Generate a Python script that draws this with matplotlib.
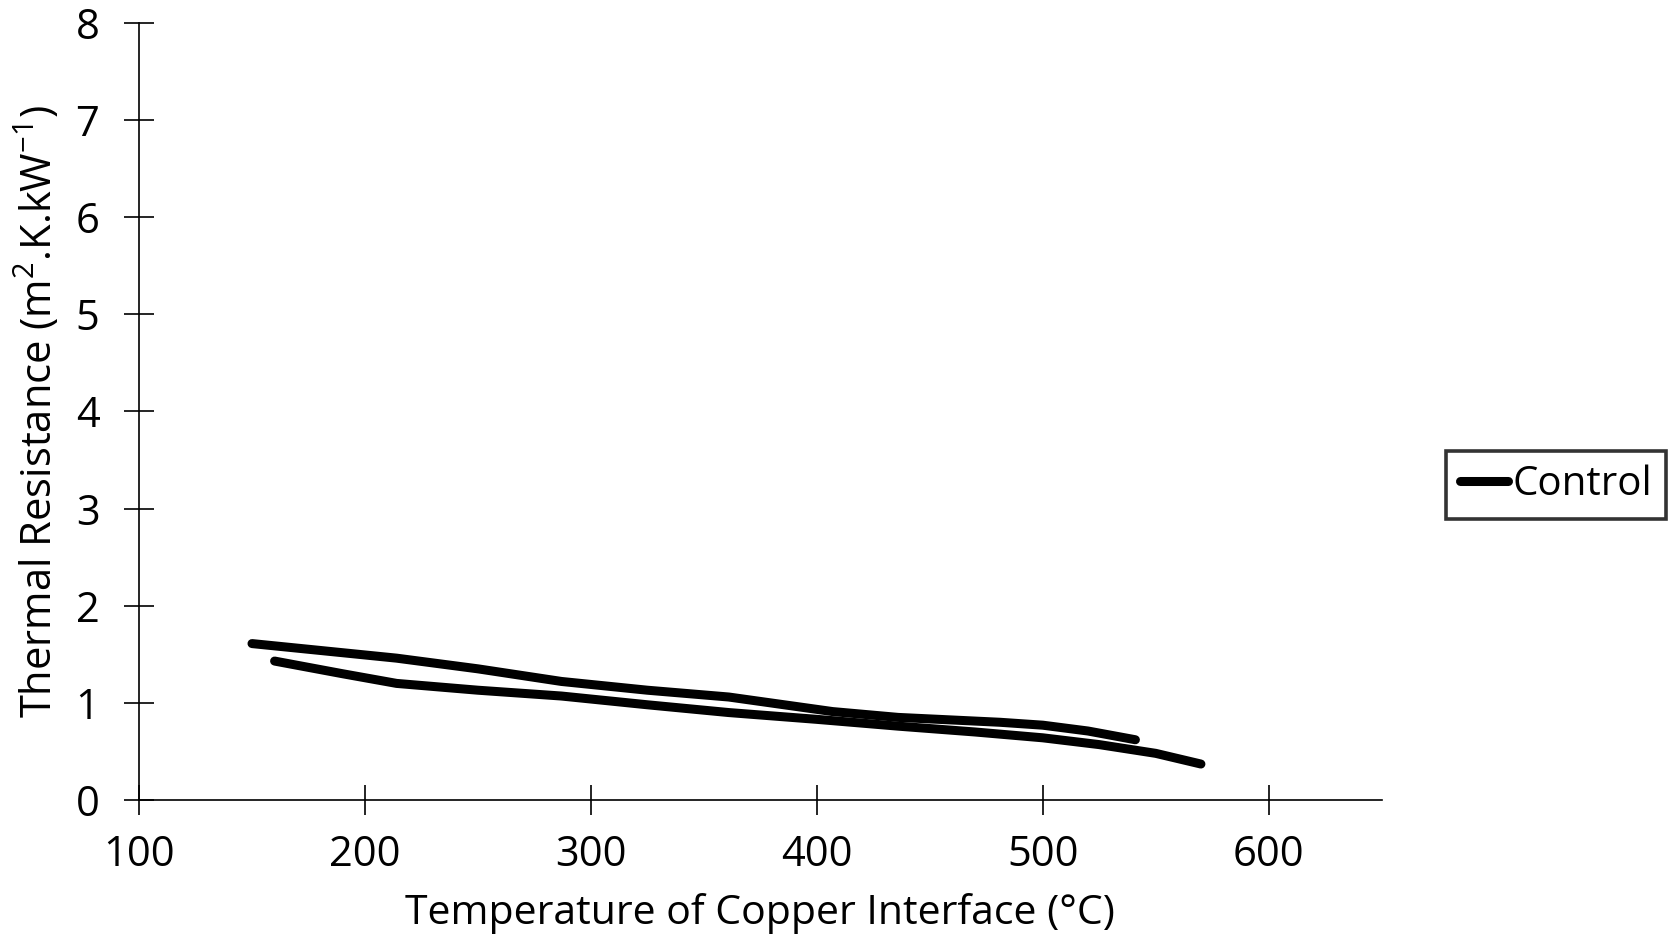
import matplotlib
matplotlib.use("Agg")
import matplotlib.pyplot as plt

plt.rcParams['font.family'] = ['Open Sans', 'DejaVu Sans']
plt.rcParams['mathtext.fontset'] = 'custom'
plt.rcParams['mathtext.rm'] = 'Open Sans'

# curva superior (aquecimento)
temp_sup = [150, 214, 250, 287, 325, 361, 407, 436, 481, 500, 520, 541]
res_sup = [1.61, 1.46, 1.35, 1.22, 1.13, 1.06, 0.91, 0.85, 0.80, 0.77, 0.71, 0.62]

# curva inferior (resfriamento)
temp_inf = [160, 190, 214, 250, 287, 325, 361, 400, 436, 470, 500, 525, 550, 570]
res_inf = [1.43, 1.30, 1.20, 1.13, 1.07, 0.98, 0.90, 0.83, 0.76, 0.70, 0.64, 0.57, 0.48, 0.37]

x_ticks = [100, 200, 300, 400, 500, 600]
y_ticks = [0, 1, 2, 3, 4, 5, 6, 7, 8]

fs = 30

fig = plt.figure(figsize=(16.77, 9.51), dpi=100)
ax = fig.add_axes([0.0829, 0.1588, 0.741, 0.8172])

ax.plot(temp_sup, res_sup, color='black', lw=6.5, solid_capstyle='round',
        solid_joinstyle='round', label='Control')
ax.plot(temp_inf, res_inf, color='black', lw=6.5, solid_capstyle='round',
        solid_joinstyle='round')

ax.set_xlim(100, 650)
ax.set_ylim(0, 8)
ax.set_xticks(x_ticks)
ax.set_yticks(y_ticks)
for s in ['top', 'right']:
    ax.spines[s].set_visible(False)
for s in ['left', 'bottom']:
    ax.spines[s].set_linewidth(1.2)
ax.tick_params(direction='inout', length=21, width=1.2, labelsize=fs)
ax.tick_params(axis='x', pad=14)
ax.tick_params(axis='y', pad=18)

ax.set_xlabel('Temperature of Copper Interface (°C)', fontsize=29.5, labelpad=12)
ax.set_ylabel(r'Thermal Resistance (m$^{2}$.K.kW$^{-1}$)', fontsize=fs, labelpad=10)

leg = ax.legend(loc='center left', bbox_to_anchor=(0.862, 0.49),
                bbox_transform=fig.transFigure, borderaxespad=0, fontsize=29,
                frameon=True, fancybox=False, handlelength=1.2, handletextpad=0.1,
                borderpad=0.35)
leg.get_frame().set_edgecolor('black')
leg.get_frame().set_linewidth(2.6)

fig.savefig('out.png', dpi=100)
